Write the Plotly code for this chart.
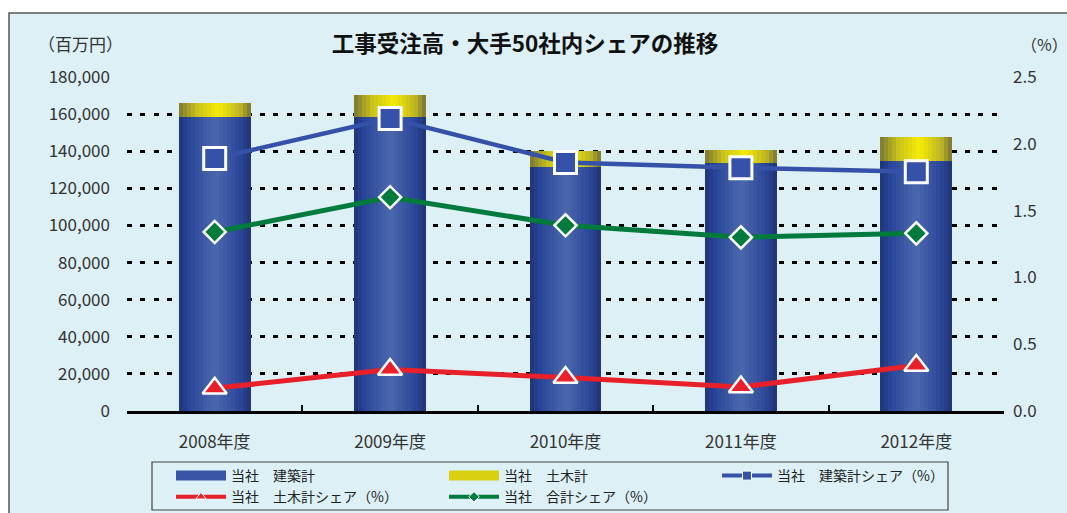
import plotly.graph_objects as go

# ---------------- data ----------------
years = ["2008年度", "2009年度", "2010年度", "2011年度", "2012年度"]
construction = [158400, 158400, 131500, 133700, 134700]   # 当社 建築計 (百万円)
civil = [7600, 11900, 8600, 7000, 12900]                  # 当社 土木計 (百万円)
share_construction = [1.89, 2.19, 1.86, 1.82, 1.79]       # 当社 建築計シェア (%)
share_civil = [0.17, 0.31, 0.25, 0.18, 0.34]              # 当社 土木計シェア (%)
share_total = [1.34, 1.60, 1.39, 1.30, 1.33]              # 当社 合計シェア (%)
left_ticks = [0, 20000, 40000, 60000, 80000, 100000, 120000, 140000, 160000, 180000]
right_ticks = [0.0, 0.5, 1.0, 1.5, 2.0, 2.5]

# ---------------- style ----------------
FONT = "Noto Sans CJK JP"
BG = "#dcf0f5"
BAR_W = 0.41
N_STRIPS = 18


def hex2rgb(h):
    h = h.lstrip("#")
    return tuple(int(h[i:i + 2], 16) for i in (0, 2, 4))


def grad(stops, t):
    for (t0, c0), (t1, c1) in zip(stops, stops[1:]):
        if t0 <= t <= t1:
            f = (t - t0) / (t1 - t0) if t1 > t0 else 0
            a, b = hex2rgb(c0), hex2rgb(c1)
            return "rgb(%d,%d,%d)" % tuple(round(a[k] + (b[k] - a[k]) * f) for k in range(3))
    return stops[-1][1]


blue_stops = [(0.0, "#1f3479"), (0.15, "#2a4699"), (0.5, "#4b68ad"), (0.85, "#2c4698"), (1.0, "#1e3275")]
yellow_stops = [(0.0, "#7b7734"), (0.25, "#c8c21c"), (0.55, "#f5ec03"), (0.85, "#bdb524"), (1.0, "#777234")]

fig = go.Figure()

sw = BAR_W / N_STRIPS
for series, base, stops in ((construction, None, blue_stops), (civil, construction, yellow_stops)):
    for i in range(N_STRIPS):
        t = (i + 0.5) / N_STRIPS
        w = sw * (1.6 if i < N_STRIPS - 1 else 1.0)
        fig.add_trace(go.Bar(
            x=years, y=series, base=base,
            width=[w] * len(years), offset=-BAR_W / 2 + i * sw,
            marker=dict(color=grad(stops, t), line=dict(width=0)),
            showlegend=False, hoverinfo="skip", yaxis="y",
        ))

# share lines (right axis)
fig.add_trace(go.Scatter(
    x=years, y=share_construction, mode="lines+markers", yaxis="y2", showlegend=False,
    line=dict(color="#3552a8", width=4.5),
    marker=dict(symbol="square", size=22, color="#3552a8", line=dict(color="white", width=3)),
))
fig.add_trace(go.Scatter(
    x=years, y=share_total, mode="lines+markers", yaxis="y2", showlegend=False,
    line=dict(color="#007a3d", width=5),
    marker=dict(symbol="diamond", size=17, color="#007a3d", line=dict(color="white", width=2.5)),
))
fig.add_trace(go.Scatter(
    x=years, y=share_civil, mode="lines+markers", yaxis="y2", showlegend=False,
    line=dict(color="#e8202a", width=5),
    marker=dict(symbol="triangle-up", size=21, color="#e8202a",
                line=dict(color="white", width=2.5)),
))

# legend entries
leg = [
    ("当社　建築計", dict(mode="lines", line=dict(color="#3a55a5", width=12)), 1),
    ("当社　土木計", dict(mode="lines", line=dict(color="#d9d012", width=12)), 2),
    ("当社　建築計シェア（%）", dict(mode="lines+markers", line=dict(color="#3552a8", width=4),
                             marker=dict(symbol="square", size=9, color="#3552a8",
                                         line=dict(color="white", width=1))), 3),
    ("当社　土木計シェア（%）", dict(mode="lines+markers", line=dict(color="#e8202a", width=4),
                             marker=dict(symbol="triangle-up", size=9, color="#e8202a",
                                         line=dict(color="white", width=1))), 4),
    ("当社　合計シェア（%）", dict(mode="lines+markers", line=dict(color="#007a3d", width=4),
                            marker=dict(symbol="diamond", size=8, color="#007a3d",
                                        line=dict(color="white", width=1))), 5),
]
for name, kw, rank in leg:
    fig.add_trace(go.Scatter(x=[None], y=[None], name=name, legendrank=rank, yaxis="y2", **kw))

# frame and legend box
fig.add_shape(type="rect", xref="paper", yref="paper",
              x0=(9 - 127) / 877, x1=(1080 - 127) / 877,
              y0=(411 - 530) / 334, y1=(411 - 13) / 334,
              fillcolor=BG, line=dict(color="#555555", width=1.5), layer="below")
fig.add_shape(type="rect", xref="paper", yref="paper",
              x0=(152 - 127) / 877, x1=(948 - 127) / 877,
              y0=(411 - 510) / 334, y1=(411 - 462) / 334,
              fillcolor=BG, line=dict(color="#444444", width=1.2), layer="below")

fig.update_layout(
    width=1067, height=513, autosize=False,
    margin=dict(l=127, r=63, t=77, b=102, autoexpand=False),
    paper_bgcolor="white", plot_bgcolor="rgba(0,0,0,0)",
    barmode="overlay", bargap=0,
    font=dict(family=FONT, size=16, color="#333333"),
    title=dict(text="<b>工事受注高・大手50社内シェアの推移</b>", x=525 / 1067, xanchor="center",
               y=1 - 44 / 513, yanchor="middle", font=dict(family=FONT, size=22.5, color="#111111")),
    xaxis=dict(type="category", range=[-0.5, 4.5], showline=True, linecolor="black", linewidth=2.5,
               ticks="inside", tickson="boundaries", ticklen=6, tickwidth=2, tickcolor="black",
               showgrid=False, zeroline=False, tickfont=dict(size=17, color="#333333"),
               ticklabelstandoff=14),
    yaxis=dict(range=[0, 180000], tickvals=left_ticks, tickformat=",", showgrid=True,
               gridcolor="black", gridwidth=3, griddash="5px,8.3px", zeroline=False,
               showline=False, ticks="", tickfont=dict(size=17, color="#333333"),
               ticklabelstandoff=16),
    yaxis2=dict(range=[0, 2.5], tickvals=right_ticks, tickformat=".1f", overlaying="y", side="right",
                showgrid=False, zeroline=False, showline=False, ticks="",
                tickfont=dict(size=17, color="#333333"), ticklabelstandoff=8),
    legend=dict(orientation="h", xref="container", yref="container",
                x=171 / 1067, xanchor="left", y=1 - 460 / 513, yanchor="top",
                bgcolor="rgba(0,0,0,0)", borderwidth=0,
                itemwidth=50, entrywidth=208, entrywidthmode="pixels", tracegroupgap=0,
                font=dict(size=14, color="#222222"), traceorder="normal"),
    annotations=[
        dict(text="（百万円）", xref="paper", yref="paper", x=(36 - 127) / 877, xanchor="left",
             y=(411 - 44) / 334, yanchor="middle", showarrow=False, font=dict(size=17, color="#333333")),
        dict(text="（%）", xref="paper", yref="paper", x=(1070 - 127) / 877, xanchor="right",
             y=(411 - 44) / 334, yanchor="middle", showarrow=False, font=dict(size=16, color="#333333")),
    ],
)

fig.write_html("out.html", config={"displayModeBar": False},
               post_script="document.body.style.margin='0px';document.body.style.padding='0px';")
